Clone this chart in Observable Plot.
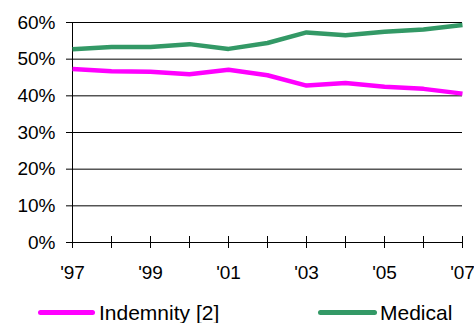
<!DOCTYPE html>
<html>
<head>
<meta charset="utf-8">
<script src="https://cdn.jsdelivr.net/npm/d3@7"></script>
<script src="https://cdn.jsdelivr.net/npm/@observablehq/plot@0.6"></script>
<style>
  html, body { margin: 0; padding: 0; background: #fff; overflow: hidden; }
  body { font-family: "Liberation Sans", Arial, sans-serif; }
  #chart svg { display: block; }
  .legend { position: relative; width: 474px; height: 31px; font-size: 21px; color: #000; }
  .legend .swatch { position: absolute; height: 5px; border-radius: 3px; }
  .legend .label { position: absolute; line-height: 21px; white-space: nowrap; }
</style>
</head>
<body>
<div id="chart"></div>
<script>
// Share of benefit costs by type, 1997–2007
const years = [1997, 1998, 1999, 2000, 2001, 2002, 2003, 2004, 2005, 2006, 2007];
const indemnity = [47.3, 46.7, 46.6, 45.9, 47.1, 45.6, 42.8, 43.5, 42.5, 41.9, 40.6];
const medical = [52.7, 53.3, 53.3, 54.1, 52.8, 54.4, 57.3, 56.5, 57.5, 58.1, 59.3];
const seriesNames = ["Indemnity [2]", "Medical"];
const seriesColors = ["#ff00ff", "#339966"];
const yTicks = [0, 10, 20, 30, 40, 50, 60];
const gridTicks = [10, 20, 30, 40, 50, 60];

const rows = [
  ...years.map((year, i) => ({year, value: indemnity[i], series: seriesNames[0]})),
  ...years.map((year, i) => ({year, value: medical[i], series: seriesNames[1]}))
];

const chart = Plot.plot({
  width: 474,
  height: 292,
  marginLeft: 72,
  marginRight: 12,
  marginTop: 22,
  marginBottom: 50,
  style: {fontFamily: "'Liberation Sans', Arial, sans-serif", fontSize: "19px", color: "#000", background: "#fff"},
  x: {domain: [years[0], years[years.length - 1]], label: null},
  y: {domain: [0, 60], label: null},
  color: {domain: seriesNames, range: seriesColors},
  marks: [
    Plot.gridY(gridTicks, {stroke: "#000", strokeOpacity: 1, strokeWidth: 1}),
    Plot.ruleY([0], {stroke: "#000", strokeWidth: 1}),
    Plot.ruleX([years[0]], {stroke: "#000", strokeWidth: 1}),
    // x ticks straddle the baseline
    Plot.ruleX(years, {x: d => d, y1: 0, y2: 0, insetTop: -6, insetBottom: -6, stroke: "#000", strokeWidth: 1}),
    Plot.axisY(yTicks, {tickSize: 6, tickPadding: 11, tickFormat: d => d + "%", stroke: "#000", fill: "#000", fontSize: 19}),
    Plot.axisX(years.filter((d, i) => i % 2 === 0), {tickSize: 0, tickPadding: 23, tickFormat: d => "'" + String(d).slice(2), fill: "#000", fontSize: 19}),
    Plot.line(rows, {x: "year", y: "value", z: "series", stroke: "series", strokeWidth: 4.5, strokeLinejoin: "round", strokeLinecap: "butt"})
  ]
});
document.getElementById("chart").appendChild(chart);

// Legend below the plot
const legend = document.createElement("div");
legend.className = "legend";
const legendLayout = [
  {swatchLeft: 38, swatchWidth: 57, labelLeft: 99},
  {swatchLeft: 318, swatchWidth: 59, labelLeft: 380}
];
seriesNames.forEach((name, i) => {
  const sw = document.createElement("div");
  sw.className = "swatch";
  sw.style.left = legendLayout[i].swatchLeft + "px";
  sw.style.width = legendLayout[i].swatchWidth + "px";
  sw.style.top = "18px";
  sw.style.background = seriesColors[i];
  legend.appendChild(sw);
  const lab = document.createElement("div");
  lab.className = "label";
  lab.style.left = legendLayout[i].labelLeft + "px";
  lab.style.top = "10px";
  lab.textContent = name;
  legend.appendChild(lab);
});
document.body.appendChild(legend);
</script>
</body>
</html>
